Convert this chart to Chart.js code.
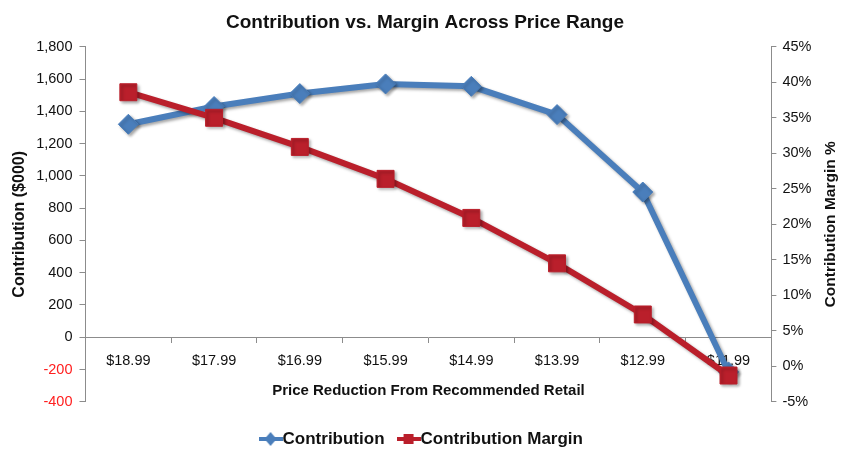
<!DOCTYPE html>
<html>
<head>
<meta charset="utf-8">
<title>Contribution vs. Margin Across Price Range</title>
<script src="https://cdn.jsdelivr.net/npm/chart.js@4/dist/chart.umd.min.js"></script>
<style>
  html, body { margin: 0; padding: 0; background: #fff; }
  #wrap { width: 857px; height: 469px; }
</style>
</head>
<body>
<div id="wrap"><canvas id="marginChart"></canvas></div>
<script>
// Data
const priceLabels = ['$18.99', '$17.99', '$16.99', '$15.99', '$14.99', '$13.99', '$12.99', '$11.99'];
const contribution = [1320, 1430, 1510, 1570, 1555, 1380, 900, -215];   // $000
const marginPct = [38.6, 35.0, 30.9, 26.4, 20.9, 14.5, 7.3, -1.3];      // %

const blue = '#4A7EBB';
const red = '#BA1F2B';
const fontFamily = '"Liberation Sans", Arial, sans-serif';
const rightTitle = 'Contribution Margin %';

// small line+marker image for the legend
function legendMarker(color, style) {
    const c = document.createElement('canvas');
    c.width = 24;
    c.height = 14;
    const g = c.getContext('2d');
    g.fillStyle = color;
    g.fillRect(0, 5, 24, 4);
    g.beginPath();
    if (style === 'diamond') {
        g.moveTo(12, 0);
        g.lineTo(18, 7);
        g.lineTo(12, 14);
        g.lineTo(6, 7);
    } else {
        g.rect(7, 2, 10, 10);
    }
    g.fill();
    return c;
}

const shadowPlugin = {
    id: 'lineShadow',
    beforeDatasetsDraw(chart) {
        const ctx = chart.ctx;
        ctx.save();
        ctx.shadowColor = 'rgba(0,0,0,0.35)';
        ctx.shadowBlur = 3;
        ctx.shadowOffsetX = 2;
        ctx.shadowOffsetY = 2;
    },
    afterDatasetsDraw(chart) {
        chart.ctx.restore();
    }
};

// right axis title reads bottom-to-top like the left one
const rightTitlePlugin = {
    id: 'rightTitle',
    afterDraw(chart) {
        const s = chart.scales.y1;
        const t = s.options.title;
        const size = t.font.size;
        const x = s.right - (size * 1.2 / 2 + t.padding.top);
        const y = (s.top + s.bottom) / 2;
        const ctx = chart.ctx;
        ctx.save();
        ctx.translate(x, y);
        ctx.rotate(-Math.PI / 2);
        ctx.font = 'bold ' + size + 'px ' + fontFamily;
        ctx.fillStyle = '#111';
        ctx.textAlign = 'center';
        ctx.textBaseline = 'middle';
        ctx.fillText(rightTitle, 0, 0);
        ctx.restore();
    }
};

const config = {
    type: 'line',
    data: {
        labels: priceLabels,
        datasets: [{
            label: 'Contribution',
            data: contribution,
            yAxisID: 'y',
            borderColor: blue,
            backgroundColor: blue,
            borderWidth: 6,
            pointStyle: 'rectRot',
            pointRadius: 10,
            pointBorderWidth: 1,
            tension: 0,
            order: 1
        }, {
            label: 'Contribution Margin',
            data: marginPct,
            yAxisID: 'y1',
            borderColor: red,
            backgroundColor: red,
            borderWidth: 6,
            pointStyle: 'rect',
            pointRadius: 12,
            pointBorderWidth: 1,
            tension: 0,
            order: 0
        }]
    },
    options: {
        responsive: true,
        maintainAspectRatio: false,
        animation: false,
        layout: {
            padding: { left: 10, right: 17, top: 0, bottom: 11.5 }
        },
        plugins: {
            title: {
                display: true,
                text: 'Contribution vs. Margin Across Price Range',
                color: '#111',
                font: { family: fontFamily, size: 19, weight: 'bold' },
                padding: { top: 11, bottom: 13 }
            },
            legend: {
                position: 'bottom',
                title: {
                    display: true,
                    text: '',
                    font: { size: 1 },
                    padding: { top: 7, bottom: 0 }
                },
                labels: {
                    color: '#111',
                    font: { family: fontFamily, size: 17, weight: 'bold' },
                    usePointStyle: true,
                    pointStyleWidth: 7,
                    padding: 20.5,
                    generateLabels: function(chart) {
                        return chart.data.datasets.map(function(ds, i) {
                            return {
                                text: ds.label,
                                datasetIndex: i,
                                fontColor: '#111',
                                pointStyle: legendMarker(ds.borderColor, i === 0 ? 'diamond' : 'square'),
                                lineWidth: 0
                            };
                        });
                    }
                }
            },
            tooltip: { enabled: false }
        },
        scales: {
            x: {
                position: { y: 0 },
                offset: true,
                afterFit: function(scale) { scale.height = 0; },
                border: { display: true, color: '#8c8c8c', width: 1 },
                grid: { display: true, drawOnChartArea: false, drawTicks: true, tickLength: 5, offset: true, color: '#8c8c8c' },
                ticks: {
                    color: '#111',
                    font: { family: fontFamily, size: 14.5 },
                    padding: 10,
                    maxRotation: 0
                },
                title: {
                    display: true,
                    text: 'Price Reduction From Recommended Retail',
                    color: '#111',
                    font: { family: fontFamily, size: 15, weight: 'bold' },
                    padding: { top: 0, bottom: -63 }
                }
            },
            y: {
                position: 'left',
                min: -400,
                max: 1800,
                border: { display: true, color: '#8c8c8c', width: 1 },
                grid: { drawOnChartArea: false, drawTicks: true, tickLength: 6, color: '#8c8c8c' },
                ticks: {
                    stepSize: 200,
                    padding: 7,
                    font: { family: fontFamily, size: 14.5 },
                    color: function(ctx) { return ctx.tick.value < 0 ? '#ff2020' : '#111'; },
                    callback: function(value) { return value.toLocaleString('en-US'); }
                },
                title: {
                    display: true,
                    text: 'Contribution ($000)',
                    color: '#111',
                    font: { family: fontFamily, size: 16, weight: 'bold' },
                    padding: { top: 0, bottom: 0 }
                }
            },
            y1: {
                position: 'right',
                min: -5,
                max: 45,
                border: { display: true, color: '#8c8c8c', width: 1 },
                grid: { drawOnChartArea: false, drawTicks: true, tickLength: 5, color: '#8c8c8c' },
                ticks: {
                    stepSize: 5,
                    padding: 6,
                    font: { family: fontFamily, size: 14.5 },
                    color: '#111',
                    callback: function(value) { return value + '%'; }
                },
                title: {
                    display: true,
                    text: rightTitle,
                    color: 'rgba(0,0,0,0)',
                    font: { family: fontFamily, size: 15.5, weight: 'bold' },
                    padding: { top: 0, bottom: 4 }
                }
            }
        }
    },
    plugins: [shadowPlugin, rightTitlePlugin]
};

const ctx = document.getElementById('marginChart').getContext('2d');
new Chart(ctx, config);
</script>
</body>
</html>
